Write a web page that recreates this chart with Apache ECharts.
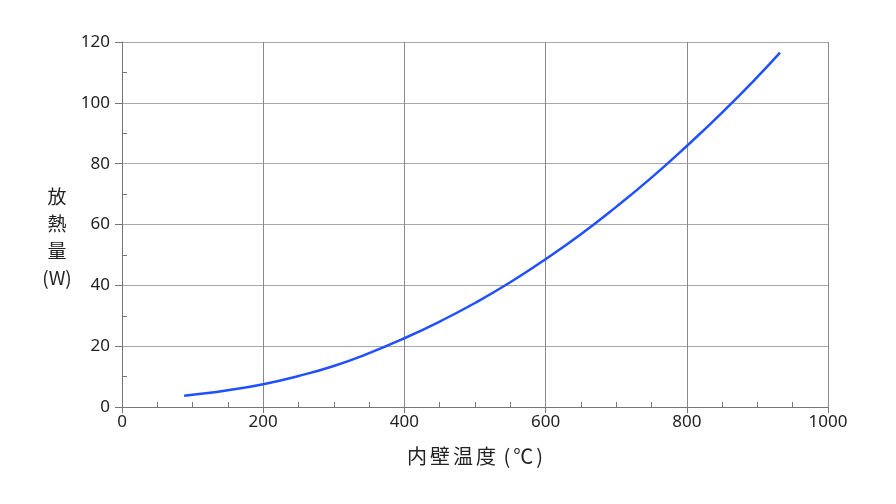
<!DOCTYPE html>
<html>
<head>
<meta charset="utf-8">
<script src="https://cdn.jsdelivr.net/npm/echarts@6/dist/echarts.min.js"></script>
<style>html,body{margin:0;padding:0;background:#fff}#c{width:896px;height:504px}</style>
</head>
<body>
<div id="c"></div>
<script>
const temps = [88, 100, 150, 200, 250, 300, 350, 400, 450, 500, 550, 600, 650, 700, 750, 800, 850, 900, 932];
const heat  = [3.7, 4.0, 5.5, 7.5, 10.2, 13.5, 17.7, 22.6, 28.1, 34.2, 41.0, 48.6, 56.8, 65.8, 75.4, 85.8, 96.8, 108.5, 116.5];
const xName = '内壁温度 (℃)';
const yNameLines = ['放', '熱', '量', '(W)'];

const FONT = '"Noto Sans", "Noto Sans CJK JP", sans-serif';
const CJK = '"Noto Sans CJK JP", "Noto Sans", sans-serif';
const gridBox = {left: 122, right: 68, top: 42, bottom: 97};
// spaced characters for the x-axis name (rich text tokens, text unchanged)
const xNameRich = Array.from(xName).map(ch => ch === ' ' ? '{s| }' : '{c|' + ch + '}').join('');
const chart = echarts.init(document.getElementById('c'), null, {renderer: 'canvas'});
chart.setOption({
  backgroundColor: '#fff',
  animation: false,
  grid: [Object.assign({}, gridBox), Object.assign({}, gridBox)],
  xAxis: [{
    type: 'value', gridIndex: 0, min: 0, max: 1000, interval: 200,
    name: xNameRich, nameLocation: 'middle', nameGap: 39,
    nameTextStyle: {
      fontFamily: CJK, fontSize: 20, color: '#222',
      rich: {
        c: {fontFamily: CJK, fontSize: 20, color: '#222', padding: [0, 1.5, 0, 1.5]},
        s: {fontFamily: CJK, fontSize: 20, color: '#222'}
      }
    },
    axisLine: {lineStyle: {color: '#777', width: 1}},
    axisTick: {show: true, inside: false, length: 6, lineStyle: {color: '#777'}},
    axisLabel: {fontFamily: FONT, fontSize: 17, color: '#222', margin: 7, formatter: v => String(v)},
    splitLine: {show: true, lineStyle: {color: '#8a8a8a', width: 1}}
  }, {
    type: 'value', gridIndex: 1, min: 0, max: 1000, interval: 200,
    axisLine: {show: false},
    axisTick: {show: false, inside: true},
    axisLabel: {show: false},
    splitLine: {show: false},
    minorTick: {show: true, splitNumber: 4, length: 5, lineStyle: {color: '#777'}}
  }],
  yAxis: [{
    type: 'value', gridIndex: 0, min: 0, max: 120, interval: 20,
    axisLine: {show: true, lineStyle: {color: '#777', width: 1}},
    axisTick: {show: true, inside: false, length: 7, lineStyle: {color: '#777'}},
    axisLabel: {fontFamily: FONT, fontSize: 17, color: '#222', margin: 12},
    splitLine: {show: true, lineStyle: {color: '#a8a8a8', width: 1}}
  }, {
    type: 'value', gridIndex: 1, min: 0, max: 120, interval: 20,
    axisLine: {show: false},
    axisTick: {show: false, inside: true},
    axisLabel: {show: false},
    splitLine: {show: false},
    minorTick: {show: true, splitNumber: 2, length: 5, lineStyle: {color: '#777'}}
  }],
  graphic: [{
    type: 'text', x: 57, y: 183,
    style: {
      text: yNameLines.join('\n'), fontFamily: CJK, fontSize: 19, lineHeight: 27,
      fill: '#222', align: 'center', verticalAlign: 'top'
    }
  }],
  series: [{
    type: 'line', xAxisIndex: 0, yAxisIndex: 0,
    data: temps.map((t, i) => [t, heat[i]]),
    smooth: true, showSymbol: false,
    lineStyle: {color: '#2050ff', width: 2.5}
  }]
});
</script>
</body>
</html>
